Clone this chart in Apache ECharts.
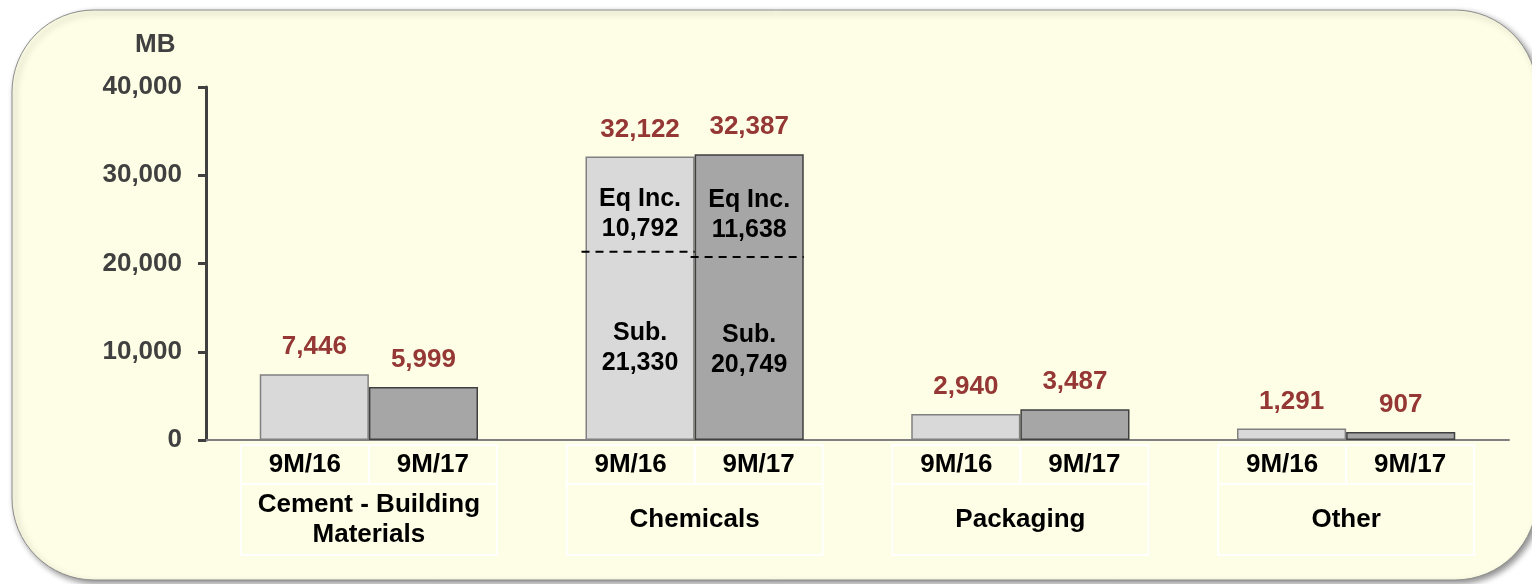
<!DOCTYPE html>
<html>
<head>
<meta charset="utf-8">
<script src="https://cdn.jsdelivr.net/npm/echarts@6/dist/echarts.min.js"></script>
<style>
  html, body { margin: 0; padding: 0; background: #fff; }
  #chart { width: 1532px; height: 584px; }
</style>
</head>
<body>
<div id="chart"></div>
<script>
// data
const segments = ['Cement - Building\nMaterials', 'Chemicals', 'Packaging', 'Other'];
const periods = ['9M/16', '9M/17'];
const values2016 = [7446, 32122, 2940, 1291];
const values2017 = [5999, 32387, 3487, 907];
const chemicalsSub = [21330, 20749];
const chemicalsEqInc = [10792, 11638];

const FONT = '"Liberation Sans", Arial, sans-serif';
const CAT_GAP = 0.33;
const fmt = v => Number(v).toLocaleString('en-US');

function renderBreakdown(params, api) {
    const cat = api.value(0);
    const slot = api.value(1);
    const sub = api.value(2);
    const eq = api.value(3);
    const band = api.size([1, 0])[0];
    const barW = band * (1 - CAT_GAP) / 2;
    const cx = api.coord([cat, 0])[0];
    const x0 = slot === 0 ? cx - barW : cx;
    const yBase = api.coord([cat, 0])[1];
    const yMid = api.coord([cat, sub])[1];
    const yTop = api.coord([cat, sub + eq])[1];
    const txt = (text, y) => ({
        type: 'text',
        style: {
            text: text, x: x0 + barW / 2, y: y,
            align: 'center', verticalAlign: 'middle',
            fontSize: 25, fontWeight: 'bold', fontFamily: FONT,
            lineHeight: 30, fill: '#000'
        }
    });
    return {
        type: 'group',
        children: [
            {
                type: 'line',
                shape: { x1: x0 - 4, y1: yMid, x2: x0 + barW, y2: yMid },
                style: { stroke: '#000', lineWidth: 2, lineDash: [8, 6] }
            },
            txt('Eq Inc.\n' + fmt(eq), (yTop + yMid) / 2 + 10),
            txt('Sub.\n' + fmt(sub), (yMid + yBase) / 2 + 2)
        ]
    };
}

function renderTable(params, api) {
    const cat = api.value(0);
    const base = api.coord([cat, 0]);
    const cx = base[0];
    const y0 = base[1];
    const cellW = 128;
    const label = (text, x, y) => ({
        type: 'text',
        style: {
            text: text, x: x, y: y,
            align: 'center', verticalAlign: 'middle',
            fontSize: 26, fontWeight: 'bold', fontFamily: FONT,
            lineHeight: 30, fill: '#000'
        }
    });
    const cell = (x, y, w, h) => ({
        type: 'rect',
        shape: { x: x, y: y, width: w, height: h },
        style: { fill: null, stroke: '#fff', lineWidth: 2 }
    });
    return {
        type: 'group',
        children: [
            cell(cx - cellW, y0 + 5, cellW, 39),
            cell(cx, y0 + 5, cellW, 39),
            cell(cx - cellW, y0 + 44, cellW * 2, 71),
            label(periods[0], cx - cellW / 2, y0 + 25),
            label(periods[1], cx + cellW / 2, y0 + 25),
            label(segments[cat], cx, y0 + 80)
        ]
    };
}

const chartDom = document.getElementById('chart');
const myChart = echarts.init(chartDom);

const option = {
    animation: false,
    graphic: {
        elements: [
            {
                type: 'rect',
                z: -10,
                shape: { x: 12, y: 10, width: 1525, height: 570, r: 82 },
                style: {
                    fill: '#FEFEE6',
                    stroke: '#8c8c8c',
                    lineWidth: 1,
                    shadowBlur: 6,
                    shadowOffsetX: 3,
                    shadowOffsetY: 3,
                    shadowColor: 'rgba(0,0,0,0.45)'
                }
            }
        ]
    },
    title: {
        text: 'MB',
        left: 135,
        top: 32,
        padding: 0,
        textStyle: { fontSize: 26, fontWeight: 'bold', color: '#404040', fontFamily: FONT }
    },
    grid: {
        left: 206,
        right: 23,
        top: 87,
        bottom: 144
    },
    xAxis: {
        type: 'category',
        data: segments,
        axisLine: { lineStyle: { color: '#808080', width: 2 } },
        axisTick: { show: false },
        axisLabel: { show: false }
    },
    yAxis: {
        type: 'value',
        min: 0,
        max: 40000,
        interval: 10000,
        axisLine: { show: true, lineStyle: { color: '#404040', width: 3 } },
        axisTick: { show: true, length: 8, lineStyle: { color: '#404040', width: 3 } },
        splitLine: { show: false },
        axisLabel: {
            formatter: fmt,
            color: '#404040',
            fontSize: 26,
            fontWeight: 'bold',
            fontFamily: FONT,
            margin: 24
        }
    },
    series: [
        {
            name: periods[0],
            type: 'bar',
            data: values2016,
            barGap: 0,
            barCategoryGap: (CAT_GAP * 100) + '%',
            itemStyle: { color: '#D9D9D9', borderColor: '#808080', borderWidth: 1.5 },
            label: {
                show: true,
                position: 'top',
                distance: 14,
                formatter: p => fmt(p.value),
                color: '#953735',
                fontSize: 26,
                fontWeight: 'bold',
                fontFamily: FONT
            }
        },
        {
            name: periods[1],
            type: 'bar',
            data: values2017,
            itemStyle: { color: '#A6A6A6', borderColor: '#404040', borderWidth: 1.5 },
            label: {
                show: true,
                position: 'top',
                distance: 14,
                formatter: p => fmt(p.value),
                color: '#953735',
                fontSize: 26,
                fontWeight: 'bold',
                fontFamily: FONT
            }
        },
        {
            type: 'custom',
            z: 5,
            silent: true,
            renderItem: renderBreakdown,
            encode: { x: 0, y: 2 },
            data: chemicalsSub.map((s, i) => [segments.indexOf('Chemicals'), i, s, chemicalsEqInc[i]])
        },
        {
            type: 'custom',
            z: 5,
            silent: true,
            clip: false,
            renderItem: renderTable,
            encode: { x: 0, y: 1 },
            data: segments.map((s, i) => [i, 0])
        }
    ]
};

myChart.setOption(option);

window.addEventListener('resize', () => {
    myChart.resize();
});
</script>
</body>
</html>
